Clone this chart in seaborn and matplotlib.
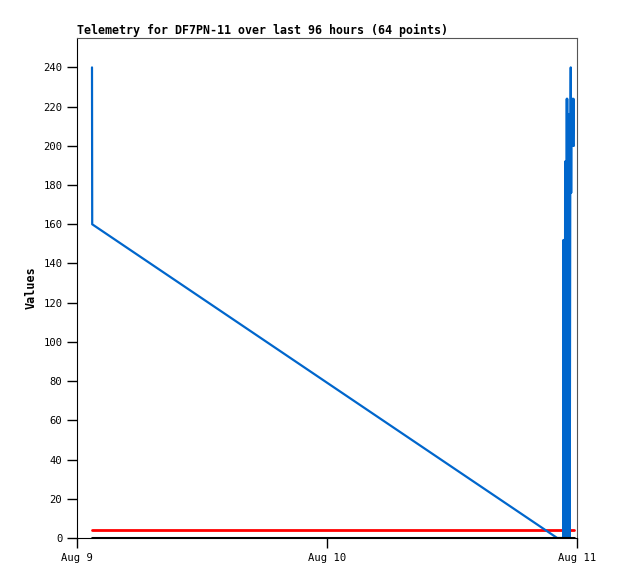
import pandas as pd
import matplotlib
matplotlib.use("Agg")
import matplotlib.pyplot as plt
import matplotlib.dates as mdates
import seaborn as sns

# hours after Aug 9 00:00 and the values
blue_hours = [1.44, 1.46, 46.10, 46.68, 46.70, 46.72, 46.84, 46.86, 46.88,
              47.00, 47.02, 47.04, 47.06, 47.08, 47.20, 47.22, 47.24, 47.26,
              47.30, 47.36, 47.40, 47.44, 47.48, 47.52, 47.56, 47.60, 47.66,
              47.70]
blue_values = [240, 160, 0, 0, 152, 0, 0, 192, 0,
               0, 224, 0, 224, 0, 0, 216, 0, 208,
               0, 200, 240, 176, 224, 208, 224, 200, 224,
               200]
const_hours = [1.44, 47.70]
red_values = [4, 4]
black_values = [0, 0]
x_ticks = ["2024-08-09", "2024-08-10", "2024-08-11"]

start = pd.Timestamp("2024-08-09")
blue = pd.DataFrame({"time": start + pd.to_timedelta(blue_hours, unit="h"),
                     "value": blue_values})
red = pd.DataFrame({"time": start + pd.to_timedelta(const_hours, unit="h"),
                    "value": red_values})
black = pd.DataFrame({"time": start + pd.to_timedelta(const_hours, unit="h"),
                      "value": black_values})

sns.set_style("ticks")
plt.rcParams["font.family"] = ["DejaVu Sans Mono", "DejaVu Sans"]
plt.rcParams["text.color"] = "black"
plt.rcParams["axes.labelcolor"] = "black"

fig = plt.figure(figsize=(6.18, 5.79), dpi=100)
ax = fig.add_axes([77 / 618, 1 - 538 / 579, 500 / 618, 500 / 579])

sns.lineplot(data=red, x="time", y="value", color="#ff0000", linewidth=2,
             estimator=None, sort=False, ax=ax)
sns.lineplot(data=blue, x="time", y="value", color="#0066cc", linewidth=1.6,
             estimator=None, sort=False, ax=ax)
sns.lineplot(data=black, x="time", y="value", color="#000000", linewidth=2.2,
             estimator=None, sort=False, ax=ax)

ax.set_xlim(pd.Timestamp(x_ticks[0]), pd.Timestamp(x_ticks[-1]))
ax.set_ylim(0, 255)
ax.set_xticks(pd.to_datetime(x_ticks))
ax.xaxis.set_major_formatter(mdates.DateFormatter("%b %-d"))
ax.set_yticks(range(0, 241, 20))
ax.tick_params(axis="both", labelsize=7.6, length=7, width=1, colors="black")
ax.tick_params(axis="x", pad=4)

for side in ["left", "bottom"]:
    ax.spines[side].set_color("black")
for side in ["top", "right"]:
    ax.spines[side].set_color("#555555")

ax.set_title("Telemetry for DF7PN-11 over last 96 hours (64 points)",
             loc="left", fontsize=8.4, fontweight="bold", color="black", pad=3)
ax.set_xlabel("")
ax.set_ylabel("Values", fontsize=8.5, fontweight="bold", color="black")

fig.savefig("out.png", dpi=100)
